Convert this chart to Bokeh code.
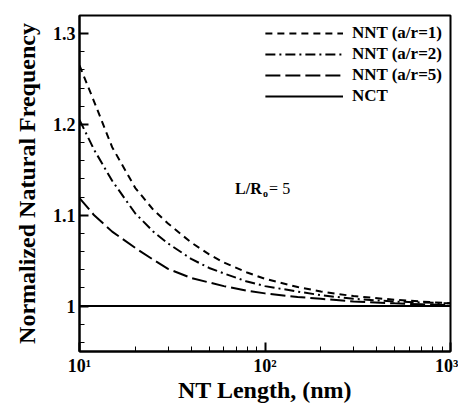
from bokeh.plotting import figure
from bokeh.models import (FixedTicker, CustomJSTickFormatter, Legend, LegendItem, Label)
from bokeh.embed import file_html
from bokeh.resources import INLINE

# ---- data ----
length_nm = [10, 12, 15, 20, 25, 30, 40, 50, 60, 80, 100, 150, 200, 300, 500, 700, 1000]
nnt_ar1 = [1.265, 1.225, 1.175, 1.130, 1.106, 1.091, 1.070, 1.057, 1.048, 1.037, 1.030,
           1.021, 1.016, 1.011, 1.007, 1.005, 1.003]
nnt_ar2 = [1.205, 1.172, 1.138, 1.102, 1.082, 1.069, 1.052, 1.042, 1.036, 1.027, 1.022,
           1.016, 1.012, 1.008, 1.005, 1.004, 1.003]
nnt_ar5 = [1.119, 1.100, 1.082, 1.064, 1.051, 1.041, 1.031, 1.026, 1.022, 1.017, 1.014,
           1.010, 1.008, 1.005, 1.003, 1.002, 1.001]
nct = [1.0 for _ in length_nm]
series_labels = ["NNT (a/r=1)", "NNT (a/r=2)", "NNT (a/r=5)", "NCT"]
y_ticks = [1.0, 1.1, 1.2, 1.3]
y_minor = [0.96, 0.98, 1.02, 1.04, 1.06, 1.08, 1.12, 1.14, 1.16, 1.18, 1.22, 1.24,
           1.26, 1.28, 1.32]
x_ticks = [10, 100, 1000]
x_minor = [20, 30, 40, 50, 60, 70, 80, 90, 200, 300, 400, 500, 600, 700, 800, 900]

FONT = "Liberation Serif"

p = figure(frame_width=371, frame_height=336, x_axis_type="log", x_range=(10, 1000),
           y_range=(0.95, 1.32), output_backend="svg", toolbar_location=None,
           min_border_left=79, min_border_top=15, min_border_right=8,
           min_border_bottom=2)
p.background_fill_color = "white"
p.border_fill_color = "white"
p.grid.visible = False
p.outline_line_color = "black"
p.outline_line_width = 2

styles = [("7 5", nnt_ar1), ("10 4 2 4", nnt_ar2), ("15 5", nnt_ar5), ("solid", nct)]
renderers = []
for dash, ys in styles:
    r = p.line(length_nm, ys, line_color="black", line_width=2, line_dash=dash)
    renderers.append(r)

# axes
for ax in (p.xaxis[0], p.yaxis[0]):
    ax.axis_line_width = 2
    ax.axis_line_color = "black"
    ax.major_tick_in = 9
    ax.major_tick_out = 0
    ax.minor_tick_in = 5
    ax.minor_tick_out = 0
    ax.major_tick_line_width = 2
    ax.minor_tick_line_width = 1
    ax.major_label_text_font = FONT
    ax.major_label_text_font_style = "bold"
    ax.major_label_text_font_size = "18px"
    ax.major_label_text_color = "black"
    ax.axis_label_text_font = FONT
    ax.axis_label_text_font_style = "bold"
    ax.axis_label_text_font_size = "24px"
    ax.axis_label_text_color = "black"

p.yaxis.ticker = FixedTicker(ticks=y_ticks, minor_ticks=y_minor)
p.yaxis.formatter = CustomJSTickFormatter(
    code="var s = tick.toFixed(1); return s.endsWith('.0') ? s.slice(0, -2) : s;")
p.yaxis.axis_label = "Normalized Natural Frequency"
p.yaxis.major_label_standoff = 4
p.yaxis.axis_label_standoff = 10

p.xaxis.ticker = FixedTicker(ticks=x_ticks, minor_ticks=x_minor)
p.xaxis.formatter = CustomJSTickFormatter(
    code="var e = Math.round(Math.log10(tick)); var sup = {'1':'\u00b9','2':'\u00b2','3':'\u00b3'}; return '10' + (sup[String(e)] || String(e));")
p.xaxis.axis_label = "NT Length, (nm)"
p.xaxis.major_label_standoff = 4
p.xaxis.axis_label_standoff = -2

# legend
items = [LegendItem(label=lab, renderers=[r]) for lab, r in zip(series_labels, renderers)]
legend = Legend(items=items, location="top_right", border_line_color=None,
                background_fill_alpha=0, glyph_width=78, glyph_height=20,
                label_height=20, label_standoff=9, spacing=1, padding=0,
                margin=8, label_text_font=FONT, label_text_font_style="bold",
                label_text_font_size="17px", label_text_color="black")
p.add_layout(legend)

# annotation L/Ro=5
p.add_layout(Label(x=69, y=1.13, text="L/R", text_font=FONT, text_font_style="bold",
                   text_font_size="16px", text_baseline="middle", text_align="left",
                   text_color="black"))
p.add_layout(Label(x=69, y=1.13, x_offset=28, y_offset=-5, text="o", text_font=FONT,
                   text_font_style="bold", text_font_size="10px",
                   text_baseline="middle", text_align="left", text_color="black"))
p.add_layout(Label(x=69, y=1.13, x_offset=34, text="= 5", text_font=FONT,
                   text_font_size="16px", text_baseline="middle", text_align="left",
                   text_color="black"))

open("out.html", "w").write(file_html(p, INLINE))
